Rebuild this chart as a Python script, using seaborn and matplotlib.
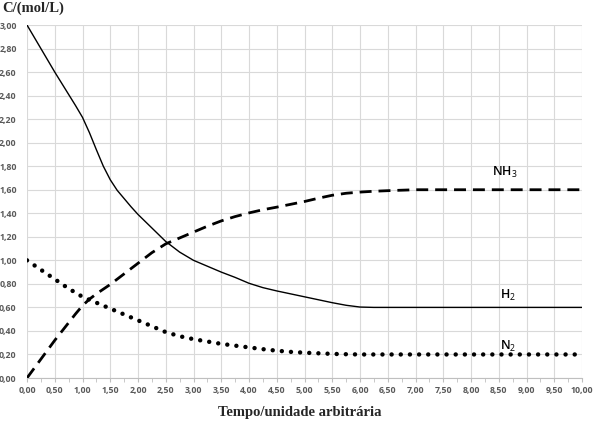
import matplotlib
matplotlib.use("Agg")
import matplotlib.pyplot as plt
import seaborn as sns
import numpy as np
import pandas as pd
from matplotlib.ticker import MultipleLocator, FuncFormatter

# ---- data ----
tempo = [0, 0.25, 0.5, 0.75, 0.875, 1.0, 1.125, 1.25, 1.375, 1.5, 1.625, 1.75,
         1.875, 2.0, 2.25, 2.5, 2.75, 3.0, 3.25, 3.5, 3.75, 4.0, 4.25, 4.5,
         4.75, 5.0, 5.25, 5.5, 5.75, 6.0, 6.25, 6.5, 7.0, 7.5, 8.0, 8.5, 9.0,
         9.5, 10.0]
h2 = [3.00, 2.80, 2.60, 2.41, 2.315, 2.215, 2.085, 1.94, 1.80, 1.685, 1.595, 1.525,
      1.455, 1.39, 1.275, 1.16, 1.07, 1.00, 0.95, 0.90, 0.855, 0.805, 0.768, 0.74,
      0.715, 0.69, 0.665, 0.64, 0.618, 0.603, 0.60, 0.60, 0.60, 0.60, 0.60, 0.60,
      0.60, 0.60, 0.60]
nh3 = [0.00, 0.16, 0.32, 0.47, 0.545, 0.615, 0.67, 0.715, 0.755, 0.795, 0.84,
       0.885, 0.93, 0.975, 1.065, 1.14, 1.19, 1.24, 1.29, 1.335, 1.372, 1.403,
       1.43, 1.452, 1.476, 1.50, 1.528, 1.553, 1.57, 1.58, 1.587, 1.592, 1.60,
       1.60, 1.60, 1.60, 1.60, 1.60, 1.60]
n2 = [1.00, 0.92, 0.84, 0.76, 0.725, 0.69, 0.665, 0.64, 0.615, 0.59, 0.565,
      0.54, 0.515, 0.49, 0.44, 0.39, 0.355, 0.33, 0.31, 0.29, 0.275, 0.26,
      0.245, 0.232, 0.222, 0.215, 0.21, 0.205, 0.202, 0.20, 0.20, 0.20, 0.20,
      0.20, 0.20, 0.20, 0.20, 0.20, 0.20]
series_labels = ["H$_2$", "NH$_3$", "N$_2$"]
label_pos = [(8.67, 0.70), (8.61, 1.75), (8.67, 0.27)]
y_title = "C/(mol/L)"
x_title = "Tempo/unidade arbitrária"

df = pd.DataFrame({"t": tempo, "H2": h2, "NH3": nh3, "N2": n2})

sns.set_style("white")
plt.rcParams["font.family"] = ["Open Sans", "DejaVu Sans"]
plt.rcParams["mathtext.fontset"] = "custom"
plt.rcParams["mathtext.rm"] = "Open Sans"
plt.rcParams["mathtext.it"] = "Open Sans"
plt.rcParams["mathtext.bf"] = "Open Sans:bold"

fig = plt.figure(figsize=(5.96, 4.23), dpi=100)
ax = fig.add_axes([27/596, 1 - 378/423, (582-27)/596, (378-25)/423])

sns.lineplot(data=df, x="t", y="H2", ax=ax, color="black", linewidth=1.0)
sns.lineplot(data=df, x="t", y="NH3", ax=ax, color="black", linewidth=2.0)
ax.lines[-1].set_linestyle((0, (4.3, 2.5)))
sns.lineplot(data=df, x="t", y="N2", ax=ax, color="black", linewidth=3.2)
ax.lines[-1].set_linestyle((0, (0.01, 2.05)))
ax.lines[-1].set_dash_capstyle("round")

ax.set_xlim(0, 10)
ax.set_ylim(0, 3.0)
ax.xaxis.set_major_locator(MultipleLocator(0.5))
ax.xaxis.set_minor_locator(MultipleLocator(0.25))
ax.yaxis.set_major_locator(MultipleLocator(0.2))
fmt = FuncFormatter(lambda v, p: f"{v:.2f}".replace(".", ","))
ax.xaxis.set_major_formatter(fmt)
ax.yaxis.set_major_formatter(fmt)

ax.grid(True, which="major", color="#d9d9d9", linewidth=0.8)
ax.set_axisbelow(True)
for s in ["top", "right", "left"]:
    ax.spines[s].set_visible(False)
ax.spines["bottom"].set_color("#bfbfbf")
ax.spines["bottom"].set_linewidth(0.8)

ax.tick_params(axis="x", which="both", bottom=True, length=3, color="#bfbfbf",
               labelsize=6.3, labelcolor="#595959", pad=3)
ax.tick_params(axis="y", left=False, labelsize=6.3, labelcolor="#595959", pad=4)
for lab in ax.get_xticklabels() + ax.get_yticklabels():
    lab.set_fontweight("bold")

ax.set_xlabel("")
ax.set_ylabel("")

for txt, (x, y) in zip(series_labels, label_pos):
    ax.text(x, y, txt, fontsize=9, color="black", ha="center", va="center",
            fontweight="semibold")

fig.text(2/596, 1 - 8/423, y_title, family="Liberation Serif", fontweight="bold",
         fontsize=10.5, ha="left", va="center")
fig.text(300/596, 1 - 412/423, x_title, family="Liberation Serif",
         fontweight="bold", fontsize=10.5, ha="center", va="center")

fig.savefig("out.png", dpi=100)
